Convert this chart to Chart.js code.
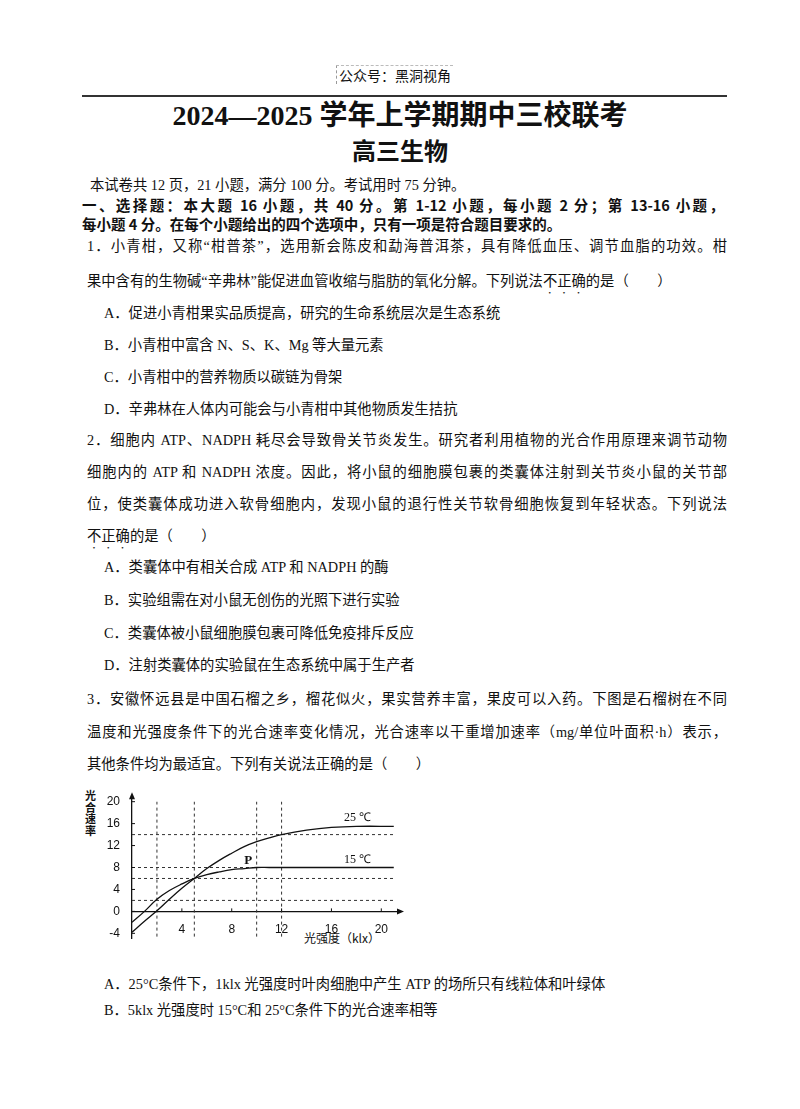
<!DOCTYPE html>
<html><head><meta charset="utf-8">
<script src="https://cdn.jsdelivr.net/npm/chart.js@4"></script>
<style>
body{margin:0;width:800px;height:1109px;background:#fff;position:relative;font-family:"Liberation Serif","Noto Sans CJK SC";color:#111;}
.t{position:absolute;white-space:nowrap;font-size:14.3px;line-height:18px;}
.j{text-align:justify;text-align-last:justify;}
.b{font-family:"Noto Sans CJK SC";font-weight:bold;}
.em{text-emphasis:dot;-webkit-text-emphasis:dot;text-emphasis-position:under;-webkit-text-emphasis-position:under;}
#wrap{position:absolute;left:75px;top:785px;width:330px;height:165px;}
</style></head><body>
<div class="t" style="left:336px;top:65px;font-family:'Noto Sans CJK SC';font-size:14px;border-left:1px dashed #999;border-top:1px dashed #bbb;padding:0 2px">公众号：黑洞视角</div>
<div style="position:absolute;left:82px;top:95px;width:645px;height:2px;background:#333"></div>
<div class="t" style="left:0;width:800px;text-align:center;top:99px;font-size:28px;line-height:34px;font-weight:bold;font-family:'Liberation Serif','Noto Sans CJK SC'">2024—2025 学年上学期期中三校联考</div>
<div class="t b" style="left:0;width:800px;text-align:center;top:135px;font-size:24px;line-height:30px">高三生物</div>
<div class="t" style="left:90px;top:176px">本试卷共 12 页，21 小题，满分 100 分。考试用时 75 分钟。</div>
<div class="t b j" style="left:82px;width:642px;top:196px;font-size:14.5px">一、选择题：本大题 16 小题，共 40 分。第 1-12 小题，每小题 2 分；第 13-16 小题，</div>
<div class="t b" style="left:82px;top:215px;font-size:14.5px">每小题 4 分。在每个小题给出的四个选项中，只有一项是符合题目要求的。</div>
<div class="t j" style="left:87px;width:640px;top:237px">1．小青柑，又称“柑普茶”，选用新会陈皮和勐海普洱茶，具有降低血压、调节血脂的功效。柑</div>
<div class="t" style="left:87px;top:272px">果中含有的生物碱“辛弗林”能促进血管收缩与脂肪的氧化分解。下列说法<span class="em">不正确</span>的是（　　）</div>
<div class="t" style="left:104px;top:304px">A．促进小青柑果实品质提高，研究的生命系统层次是生态系统</div>
<div class="t" style="left:104px;top:336px">B．小青柑中富含 N、S、K、Mg 等大量元素</div>
<div class="t" style="left:104px;top:368px">C．小青柑中的营养物质以碳链为骨架</div>
<div class="t" style="left:104px;top:400px">D．辛弗林在人体内可能会与小青柑中其他物质发生拮抗</div>
<div class="t j" style="left:87px;width:640px;top:431px">2．细胞内 ATP、NADPH 耗尽会导致骨关节炎发生。研究者利用植物的光合作用原理来调节动物</div>
<div class="t j" style="left:87px;width:640px;top:463px">细胞内的 ATP 和 NADPH 浓度。因此，将小鼠的细胞膜包裹的类囊体注射到关节炎小鼠的关节部</div>
<div class="t j" style="left:87px;width:640px;top:495px">位，使类囊体成功进入软骨细胞内，发现小鼠的退行性关节软骨细胞恢复到年轻状态。下列说法</div>
<div class="t" style="left:87px;top:527px"><span class="em">不正确</span>的是（　　）</div>
<div class="t" style="left:104px;top:558px">A．类囊体中有相关合成 ATP 和 NADPH 的酶</div>
<div class="t" style="left:104px;top:591px">B．实验组需在对小鼠无创伤的光照下进行实验</div>
<div class="t" style="left:104px;top:624px">C．类囊体被小鼠细胞膜包裹可降低免疫排斥反应</div>
<div class="t" style="left:104px;top:656px">D．注射类囊体的实验鼠在生态系统中属于生产者</div>
<div class="t j" style="left:87px;width:640px;top:690px">3．安徽怀远县是中国石榴之乡，榴花似火，果实营养丰富，果皮可以入药。下图是石榴树在不同</div>
<div class="t j" style="left:87px;width:640px;top:723px">温度和光强度条件下的光合速率变化情况，光合速率以干重增加速率（mg/单位叶面积·h）表示，</div>
<div class="t" style="left:87px;top:755px">其他条件均为最适宜。下列有关说法正确的是（　　）</div>
<div class="t" style="left:85px;top:790px;width:12px;font-size:11px;line-height:11.5px;white-space:normal;font-family:'Noto Sans CJK SC';font-weight:bold">光合速率</div>
<div class="t" style="left:304px;top:929px;font-size:12px;font-family:'Noto Sans CJK SC'">光强度（klx）</div>
<div id="wrap"><canvas id="c"></canvas></div>
<div class="t" style="left:104px;top:975px">A．25°C条件下，1klx 光强度时叶肉细胞中产生 ATP 的场所只有线粒体和叶绿体</div>
<div class="t" style="left:104px;top:1001px">B．5klx 光强度时 15°C和 25°C条件下的光合速率相等</div>
<script>
const lightX = [0, 1, 2, 3, 4, 5, 6, 7, 8, 9, 10, 11, 12, 14, 16, 18, 21];
const rate25 = [-3.8, -1.8, 0.1, 2.2, 4.2, 6, 7.8, 9.3, 10.6, 11.8, 12.7, 13.4, 14, 14.8, 15.3, 15.5, 15.5];
const rate15 = [-2, 0, 2.2, 3.8, 5, 6, 6.7, 7.2, 7.6, 7.8, 8, 8, 8, 8, 8, 8, 8];
const hRefs = [14, 8, 6, 2];
const vRefs = [2, 5, 10, 12];
const yTicks = [-4, 0, 4, 8, 12, 16, 20];
const xTicks = [4, 8, 12, 16, 20];

const pts = (xs, ys) => xs.map((x, i) => ({x, y: ys[i]}));
const dash = {borderColor: '#333', borderWidth: 1, borderDash: [3, 3], pointRadius: 0, fill: false};
const datasets = [
  {data: pts(lightX, rate25), borderColor: '#111', borderWidth: 1.3, pointRadius: 0, tension: 0.4},
  {data: pts(lightX, rate15), borderColor: '#111', borderWidth: 1.3, pointRadius: 0, tension: 0.4},
  ...hRefs.map(v => ({...dash, data: [{x: 0, y: v}, {x: 21, y: v}]})),
  ...vRefs.map(v => ({...dash, data: [{x: v, y: -4.6}, {x: v, y: 20}]}))
];

const extras = {
  id: 'extras',
  afterDraw(ch) {
    const {ctx, scales: {x, y}} = ch;
    ctx.save();
    ctx.fillStyle = '#111';
    ctx.strokeStyle = '#111';
    const ox = x.getPixelForValue(0), oy = y.getPixelForValue(0);
    const tx = x.getPixelForValue(21.5), ty = y.getPixelForValue(21);
    ctx.beginPath(); ctx.moveTo(tx + 4, oy); ctx.lineTo(tx - 3, oy - 3); ctx.lineTo(tx - 3, oy + 3); ctx.fill();
    ctx.beginPath(); ctx.moveTo(ox, ty - 4); ctx.lineTo(ox - 3, ty + 3); ctx.lineTo(ox + 3, ty + 3); ctx.fill();
    // small tick marks
    ctx.lineWidth = 1;
    xTicks.forEach(v => { const p = x.getPixelForValue(v); ctx.beginPath(); ctx.moveTo(p, oy); ctx.lineTo(p, oy - 3); ctx.stroke(); });
    yTicks.forEach(v => { const p = y.getPixelForValue(v); ctx.beginPath(); ctx.moveTo(ox, p); ctx.lineTo(ox + 3, p); ctx.stroke(); });
    ctx.font = '12px "Liberation Serif"';
    ctx.fillText('25 ℃', x.getPixelForValue(17), y.getPixelForValue(16.4));
    ctx.fillText('15 ℃', x.getPixelForValue(17), y.getPixelForValue(8.8));
    ctx.font = 'bold 13px "Liberation Serif"';
    ctx.fillText('P', x.getPixelForValue(9), y.getPixelForValue(8.6));
    ctx.restore();
  }
};

new Chart(document.getElementById('c'), {
  type: 'line',
  data: {datasets},
  plugins: [extras],
  options: {
    responsive: true, maintainAspectRatio: false, animation: false,
    layout: {padding: {top: 10, right: 5, bottom: 8, left: 0}},
    plugins: {legend: {display: false}, tooltip: {enabled: false}},
    scales: {
      x: {
        type: 'linear', min: 0, max: 21.5, position: {y: 0},
        grid: {display: false}, border: {color: '#111', width: 1.3},
        afterBuildTicks: s => { s.ticks = xTicks.map(v => ({value: v})); },
        ticks: {color: '#111', font: {size: 12, family: 'Liberation Sans'}, padding: 3}
      },
      y: {
        type: 'linear', min: -5, max: 21,
        afterFit: s => { s.width = 57; },
        grid: {display: false}, border: {color: '#111', width: 1.3},
        afterBuildTicks: s => { s.ticks = yTicks.map(v => ({value: v})); },
        ticks: {color: '#111', font: {size: 12, family: 'Liberation Sans'}, padding: 4}
      }
    }
  }
});
</script>
</body></html>
